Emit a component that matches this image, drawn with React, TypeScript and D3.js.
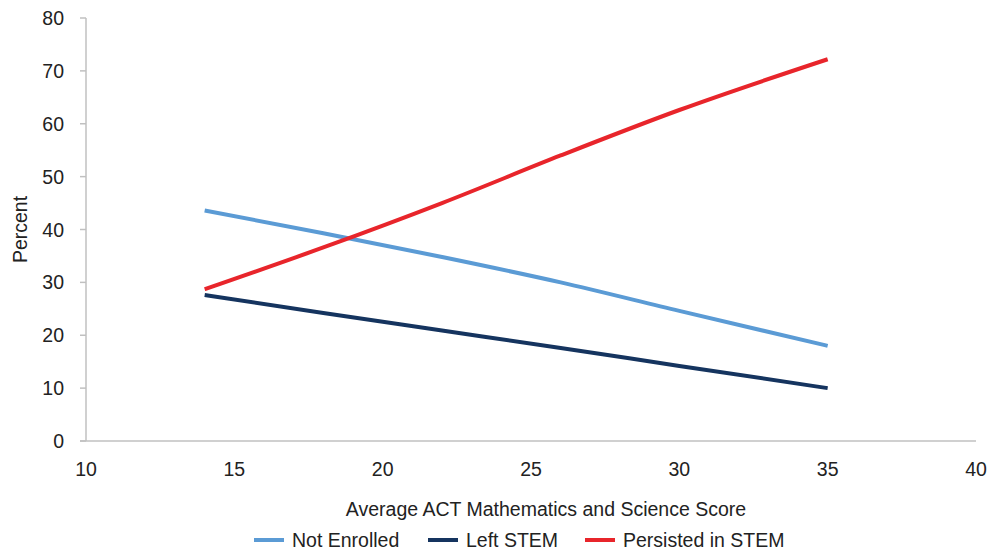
import React from "react";
import * as d3 from "d3";

const scores = [14, 18, 22, 26, 30, 35];
const notEnrolled = [43.6, 39.3, 34.8, 30.0, 24.6, 18.0];
const leftStem = [27.6, 24.2, 20.9, 17.6, 14.2, 10.0];
const persisted = [28.7, 36.6, 45.0, 54.0, 62.6, 72.2];
const xTicks = [10, 15, 20, 25, 30, 35, 40];
const yTicks = [0, 10, 20, 30, 40, 50, 60, 70, 80];

const seriesNames = ["Not Enrolled", "Left STEM", "Persisted in STEM"];
const seriesColors = ["#5b9bd5", "#15345f", "#e8252b"];
const seriesValues = [notEnrolled, leftStem, persisted];

const W = 992;
const H = 555;
const FONT = "'Liberation Sans', Arial, Helvetica, sans-serif";

export default function App() {
  const x = d3.scaleLinear().domain([10, 40]).range([86, 976]);
  const y = d3.scaleLinear().domain([0, 80]).range([441, 18]);
  const line = d3
    .line<[number, number]>()
    .x((d) => x(d[0]))
    .y((d) => y(d[1]))
    .curve(d3.curveMonotoneX);

  const legendX = [254, 428, 585];

  return (
    <div style={{ position: "absolute", left: 0, top: 0 }}>
      <svg width={W} height={H} style={{ display: "block", background: "#fff" }}>
        <line x1={x(10)} x2={x(10)} y1={y(80)} y2={y(0)} stroke="#c0c0c0" strokeWidth={1.5} />
        <line x1={x(10) - 6} x2={x(40)} y1={y(0)} y2={y(0)} stroke="#c0c0c0" strokeWidth={1.5} />
        {yTicks.map((t) => (
          <g key={"y" + t}>
            <line x1={x(10) - 6} x2={x(10)} y1={y(t)} y2={y(t)} stroke="#c0c0c0" strokeWidth={1.5} />
            <text
              x={64}
              y={y(t)}
              dy="0.36em"
              textAnchor="end"
              fontFamily={FONT}
              fontSize={19.5}
              fill="#222"
            >
              {t}
            </text>
          </g>
        ))}
        {xTicks.map((t) => (
          <text
            key={"x" + t}
            x={x(t)}
            y={476}
            textAnchor="middle"
            fontFamily={FONT}
            fontSize={19.5}
            fill="#222"
          >
            {t}
          </text>
        ))}
        <text
          transform={`translate(27,${y(40)}) rotate(-90)`}
          textAnchor="middle"
          fontFamily={FONT}
          fontSize={19.5}
          fill="#222"
        >
          Percent
        </text>
        <text x={546} y={516} textAnchor="middle" fontFamily={FONT} fontSize={19.5} fill="#222">
          Average ACT Mathematics and Science Score
        </text>
        {seriesValues.map((vals, i) => (
          <path
            key={seriesNames[i]}
            d={line(scores.map((s, j) => [s, vals[j]] as [number, number])) || ""}
            fill="none"
            stroke={seriesColors[i]}
            strokeWidth={4}
          />
        ))}
        {seriesNames.map((n, i) => (
          <g key={"lg" + n}>
            <line
              x1={legendX[i]}
              x2={legendX[i] + 30}
              y1={540}
              y2={540}
              stroke={seriesColors[i]}
              strokeWidth={4}
            />
            <text x={legendX[i] + 38} y={547} fontFamily={FONT} fontSize={19.5} fill="#222">
              {n}
            </text>
          </g>
        ))}
      </svg>
    </div>
  );
}
